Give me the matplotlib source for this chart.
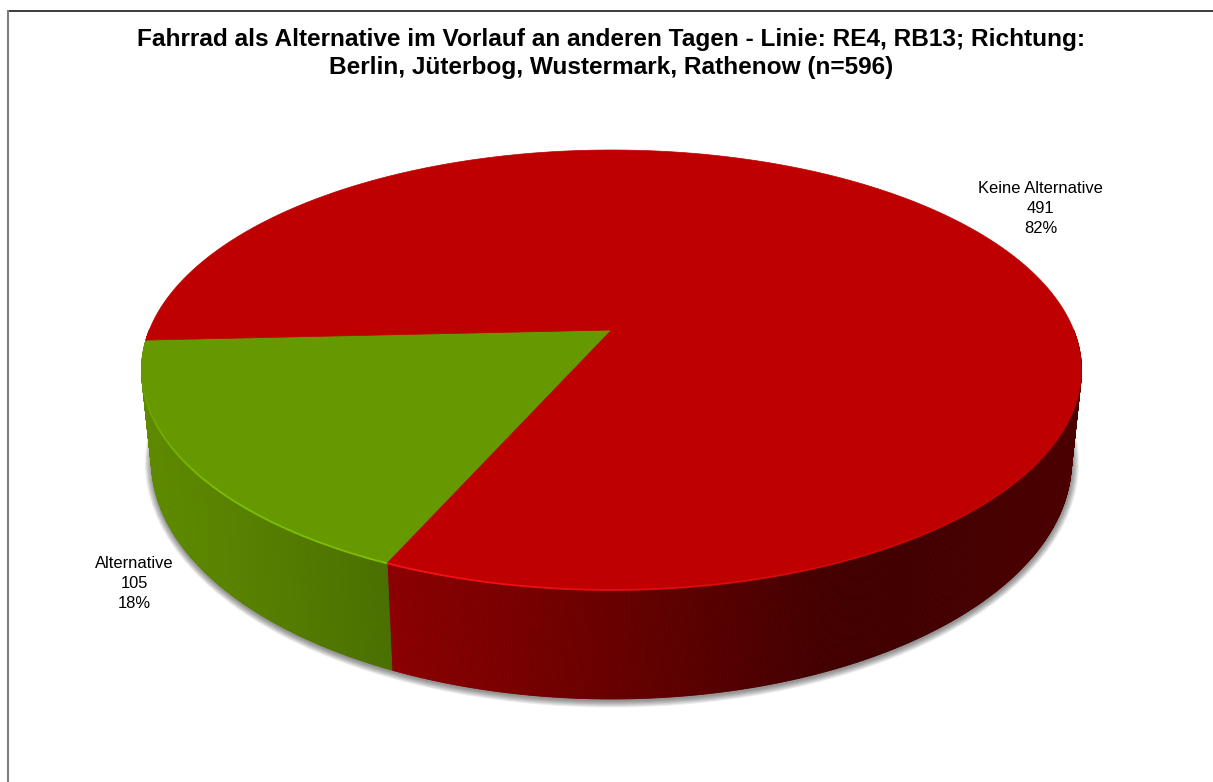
import numpy as np
import matplotlib
matplotlib.use("Agg")
import matplotlib.pyplot as plt
from matplotlib.patches import Polygon, Ellipse
from matplotlib.collections import PolyCollection, LineCollection

categories = ["Alternative", "Keine Alternative"]
values = [105, 491]
title = ("Fahrrad als Alternative im Vorlauf an anderen Tagen - Linie: RE4, RB13; Richtung:\n"
         "Berlin, Jüterbog, Wustermark, Rathenow (n=596)")

W, H = 1213, 782
START = 182.7
P = 0.1818
X0 = 611.5
TOP = dict(cy=370.0, rx=470.0, ry=220.0)
BOT = dict(cy=461.0, rx=460.0, ry=238.0)
FACE = ["#669900", "#BE0000"]
RIM = [(0.52, 0.78, 0.0), (0.98, 0.07, 0.07)]
SIDE_X = [[150, 240, 392], [387, 520, 660, 820, 900, 1085]]
SIDE_C = [[(0x5E, 0x8A, 0x00), (0x58, 0x82, 0x00), (0x4A, 0x70, 0x00)],
          [(0x8C, 0, 0), (0x78, 0, 0), (0x60, 0, 0), (0x44, 0, 0), (0x42, 0, 0), (0x4C, 0, 0)]]


def project(a, e):
    t = np.radians(a)
    u, v = np.cos(t), np.sin(t)
    k = e["rx"] * np.sqrt(1 - P ** 2)
    m = e["ry"] * (1 - P ** 2)
    y0 = e["cy"] - P * e["ry"]
    d = 1 + P * v
    return X0 + k * u / d, y0 - m * v / d


fig = plt.figure(figsize=(W / 100, H / 100), dpi=100, facecolor="white")
ax = fig.add_axes([0, 0, 1, 1])
ax.set_xlim(0, W)
ax.set_ylim(H, 0)
ax.axis("off")

# frame
ax.plot([8, W], [10.5, 10.5], color="#1a1a1a", lw=1.2, solid_capstyle="butt")
ax.plot([8, 8], [10, H], color="#7f7f7f", lw=1.5, solid_capstyle="butt")

# soft shadow
for d in np.arange(7, 0, -1):
    ax.add_patch(Ellipse((X0 + 0.5, BOT["cy"] + 1.5), 2 * (BOT["rx"] + d), 2 * (BOT["ry"] + d),
                         fc="black", ec="none", alpha=0.07, zorder=1))

total = sum(values)
spans = [v / total * 360 for v in values]
edges = [START, START + spans[0], START + spans[0] + spans[1]]

# side walls (green after red, so it covers the red wall's far end)
for i in [1, 0]:
    a0, a1 = edges[i], edges[i + 1]
    ang = np.linspace(a0, a1, int((a1 - a0) * 4) + 2)
    quads, cols = [], []
    for p, q in zip(ang[:-1], ang[1:]):
        s = np.sin(np.radians((p + q) / 2))
        if s > 0.0:
            continue
        xt0, yt0 = project(p, TOP)
        xt1, yt1 = project(q, TOP)
        xb0, yb0 = project(p, BOT)
        xb1, yb1 = project(q, BOT)
        quads.append([(xt0, yt0), (xt1, yt1), (xb1, yb1), (xb0, yb0)])
        xm = (xb0 + xb1) / 2
        c = [np.interp(xm, SIDE_X[i], [col[j] for col in SIDE_C[i]]) / 255 for j in range(3)]
        cols.append(c)
    ax.add_collection(PolyCollection(quads, facecolors=cols, edgecolors=cols, linewidths=0.6,
                                     zorder=2 + (1 - i) * 0.1))

apex = (X0, TOP["cy"] - P * TOP["ry"])
for i in range(2):
    a0, a1 = edges[i], edges[i + 1]
    ang = np.linspace(a0, a1, 500)
    xs, ys = project(ang, TOP)
    pts = [apex] + list(zip(xs, ys))
    ax.add_patch(Polygon(pts, closed=True, fc=FACE[i], ec=FACE[i], lw=0.5, zorder=3 + i * 0.1))

# bright rim along the front edge
for i in range(2):
    a0, a1 = edges[i], edges[i + 1]
    ang = np.linspace(a0, a1, 500)
    xs, ys = project(ang, TOP)
    segs = [[(xs[j], ys[j]), (xs[j + 1], ys[j + 1])] for j in range(len(ang) - 1)]
    mid = (ang[:-1] + ang[1:]) / 2 % 360
    if i == 0:
        alpha = np.clip((mid - 190) / 30, 0, 1)
    else:
        alpha = np.clip((340 - mid) / 90, 0, 1) * (mid > 200)
    cols = [(*RIM[i], al) for al in alpha]
    ax.add_collection(LineCollection(segs, colors=cols, linewidths=1.3, zorder=4))

ax.text(611.5, 53.5, title, ha="center", va="center", fontsize=17.6, fontweight="bold",
        family="Liberation Sans", color="black", linespacing=1.3, zorder=6)

label_xy = [(134, 583.5), (1040.5, 208.5)]
for name, v, (lx, ly) in zip(categories, values, label_xy):
    ax.text(lx, ly, f"{name}\n{v}\n{v / total * 100:.0f}%", ha="center", va="center",
            fontsize=11.9, family="Liberation Sans", color="black", linespacing=1.42, zorder=6)

fig.savefig("out.png", dpi=100, facecolor="white")
